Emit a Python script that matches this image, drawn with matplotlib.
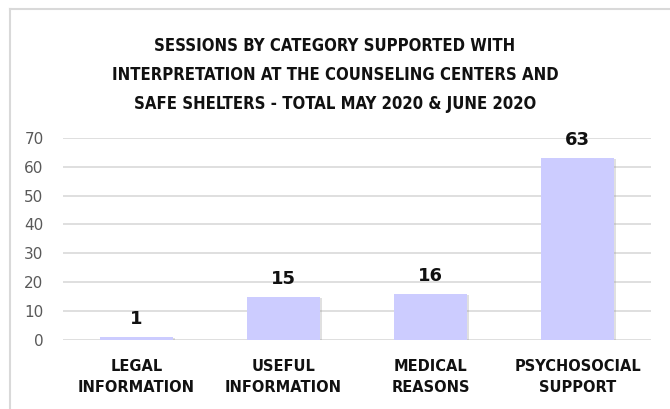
import matplotlib
matplotlib.use("Agg")
import matplotlib.pyplot as plt
import matplotlib.patheffects as pe
from matplotlib.lines import Line2D

categories = ["LEGAL\nINFORMATION", "USEFUL\nINFORMATION", "MEDICAL\nREASONS", "PSYCHOSOCIAL\nSUPPORT"]
sessions = [1, 15, 16, 63]
yticks = [0, 10, 20, 30, 40, 50, 60, 70]
title = ("SESSIONS BY CATEGORY SUPPORTED WITH\n"
         "INTERPRETATION AT THE COUNSELING CENTERS AND\n"
         "SAFE SHELTERS - TOTAL MAY 2020 & JUNE 202O")

fig = plt.figure(figsize=(6.7, 4.09), dpi=100)
ax = fig.add_axes([0.094, 0.169, 0.878, 0.494])

x = range(len(categories))
bars = ax.bar(x, sessions, width=0.5, color="#CCCCFF", zorder=3)
for b in bars:
    b.set_path_effects([pe.SimplePatchShadow(offset=(1, -1), shadow_rgbFace="#999999", alpha=0.3), pe.Normal()])

# value labels above bars
for xi, v in zip(x, sessions):
    ax.text(xi, v + 3, str(v), ha="center", va="bottom", fontsize=13, fontweight="bold", color="#111111")

ax.set_ylim(0, 70)
ax.set_xlim(-0.5, 3.5)
ax.set_yticks(yticks)
ax.yaxis.grid(True, color="#d9d9d9", linewidth=1.2, zorder=0)
ax.set_axisbelow(True)
ax.set_xticks(list(x))
ax.set_xticklabels(categories, fontsize=10.5, fontweight="bold", color="#111111", linespacing=1.5)
ax.tick_params(axis="both", length=0)
ax.tick_params(axis="x", pad=14)
ax.tick_params(axis="y", labelsize=11, labelcolor="#595959", pad=14)
for s in ax.spines.values():
    s.set_visible(False)

fig.text(0.5, 0.817, title, ha="center", va="center", fontsize=12, fontweight="bold",
         fontstretch="condensed", color="#111111", linespacing=1.8)

# chart frame
fig.add_artist(Line2D([10 / 670, 10 / 670], [0, 1 - 9 / 409], color="#d9d9d9", linewidth=1.5))
fig.add_artist(Line2D([10 / 670, 1], [1 - 9 / 409, 1 - 9 / 409], color="#d9d9d9", linewidth=1.5))

fig.savefig("out.png", dpi=100)
